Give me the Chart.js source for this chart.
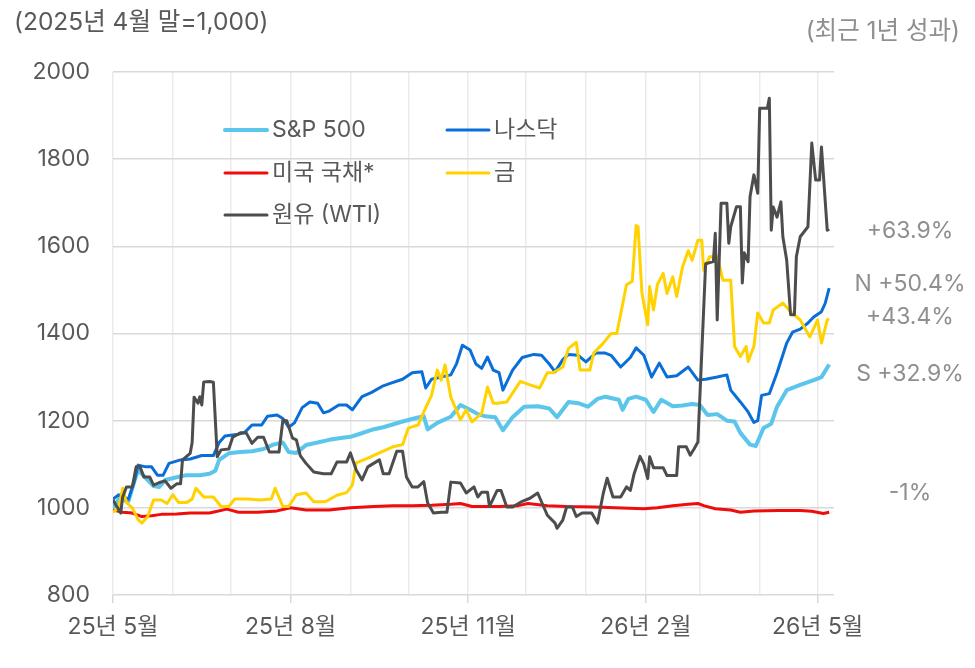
<!DOCTYPE html>
<html lang="ko">
<head>
<meta charset="utf-8">
<script src="https://cdn.jsdelivr.net/npm/chart.js@4.4.1/dist/chart.umd.min.js"></script>
<style>
    html, body { margin: 0; padding: 0; background: #ffffff; }
    #wrap { width: 975px; height: 668px; }
</style>
</head>
<body>
<div id="wrap"><canvas id="chart" width="975" height="668"></canvas></div>
<script>
// days counted from 2025-05-01, value index (2025-04-30 = 1000)
const sp500 = [
    [0,1000],[3,1020],[8,1015],[11,1060],[13,1087],[17,1068],[21,1050],[24,1048],[27,1064],[33,1070],
    [38,1075],[45,1075],[50,1078],[53,1085],[55,1110],[60,1125],[66,1128],[72,1130],[78,1135],[83,1145],
    [88,1150],[91,1128],[95,1126],[100,1144],[106,1150],[112,1156],[118,1160],[123,1163],[128,1170],[134,1179],
    [140,1185],[144,1190],[150,1198],[157,1206],[161,1210],[163,1180],[168,1195],[175,1209],[180,1236],[185,1225],
    [189,1215],[193,1210],[198,1208],[202,1178],[207,1208],[213,1232],[220,1233],[226,1228],[230,1208],[236,1243],
    [241,1240],[246,1232],[251,1250],[255,1255],[262,1248],[264,1225],[267,1250],[271,1255],[276,1248],[280,1220],
    [284,1248],[290,1233],[295,1235],[300,1238],[304,1236],[308,1213],[313,1215],[318,1200],[322,1198],[325,1172],
    [330,1145],[333,1142],[337,1183],[341,1193],[344,1232],[349,1270],[356,1282],[363,1293],[367,1300],[371,1329]
];
const nasdaq = [
    [0,1020],[3,1030],[8,1020],[11,1060],[13,1098],[17,1094],[20,1094],[23,1075],[26,1075],[29,1102],
    [35,1110],[40,1112],[46,1120],[52,1120],[55,1150],[58,1165],[64,1168],[68,1172],[72,1190],[77,1190],
    [80,1210],[85,1213],[88,1205],[91,1185],[94,1195],[98,1230],[102,1243],[106,1240],[109,1218],[112,1222],
    [117,1236],[121,1236],[124,1225],[129,1255],[134,1265],[140,1280],[144,1286],[150,1295],[155,1310],[160,1312],
    [162,1275],[165,1295],[170,1300],[175,1305],[178,1331],[181,1373],[185,1362],[188,1330],[191,1320],[194,1346],
    [197,1316],[200,1310],[202,1270],[207,1316],[212,1345],[218,1352],[222,1350],[226,1330],[229,1312],[233,1340],
    [236,1352],[241,1350],[245,1335],[250,1355],[255,1355],[258,1350],[263,1323],[268,1345],[271,1367],[275,1350],
    [279,1300],[283,1332],[287,1300],[292,1303],[298,1323],[303,1293],[307,1295],[313,1300],[318,1305],[320,1270],
    [325,1243],[329,1220],[332,1196],[334,1200],[336,1258],[340,1262],[344,1310],[349,1378],[352,1403],[356,1410],
    [360,1424],[363,1438],[367,1450],[369,1470],[371,1504]
];
const treasury = [
    [0,995],[5,990],[10,988],[15,980],[20,982],[25,985],[33,986],[40,988],[50,988],[59,997],
    [65,990],[75,990],[85,993],[92,1000],[100,995],[112,995],[123,1000],[135,1003],[145,1005],[155,1005],
    [165,1006],[175,1008],[180,1010],[186,1003],[200,1003],[210,1005],[215,1010],[225,1005],[235,1003],[250,1002],
    [260,1000],[275,998],[282,1000],[290,1005],[298,1008],[303,1010],[306,1005],[312,998],[320,995],[325,990],
    [332,993],[345,994],[356,994],[362,992],[368,987],[371,990]
];
const gold = [
    [0,990],[3,1000],[5,1045],[7,1012],[10,1000],[13,973],[15,965],[18,980],[21,1018],[25,1018],
    [28,1010],[31,1030],[34,1012],[38,1012],[41,1020],[43,1045],[47,1025],[52,1025],[56,1003],[60,1003],
    [63,1020],[70,1020],[76,1018],[82,1020],[84,1045],[88,1003],[91,1003],[95,1030],[100,1034],[104,1014],
    [110,1014],[116,1029],[121,1035],[124,1052],[126,1103],[132,1114],[138,1126],[145,1140],[150,1145],[153,1183],
    [158,1190],[161,1220],[165,1258],[168,1316],[170,1293],[172,1328],[175,1254],[180,1202],[183,1225],[186,1197],
    [191,1217],[194,1277],[197,1240],[199,1240],[204,1243],[211,1290],[216,1282],[221,1275],[225,1310],[228,1310],
    [233,1323],[236,1366],[240,1380],[242,1316],[247,1316],[249,1355],[254,1378],[258,1400],[261,1400],[266,1512],
    [269,1520],[271,1648],[272,1645],[274,1493],[277,1420],[278,1508],[280,1454],[282,1512],[285,1538],[287,1492],
    [290,1530],[292,1485],[295,1552],[298,1590],[300,1568],[303,1614],[305,1614],[306,1545],[309,1576],[313,1576],
    [316,1522],[320,1522],[322,1370],[325,1347],[328,1370],[329,1336],[332,1370],[334,1447],[337,1424],[340,1424],
    [342,1454],[347,1470],[351,1450],[356,1431],[361,1392],[365,1431],[367,1378],[370,1431],[371,1434]
];
const wti = [
    [0,1018],[2,1003],[4,988],[5,1025],[7,1048],[10,1048],[12,1094],[14,1094],[16,1071],[19,1071],
    [21,1052],[24,1058],[27,1062],[30,1045],[33,1055],[35,1055],[36,1110],[40,1125],[41,1150],[42,1254],
    [44,1240],[45,1255],[46,1236],[47,1289],[50,1290],[52,1288],[54,1117],[56,1133],[60,1135],[62,1162],
    [66,1172],[69,1172],[72,1148],[75,1162],[78,1162],[81,1128],[86,1128],[88,1201],[90,1200],[93,1160],
    [95,1156],[97,1120],[100,1102],[104,1082],[109,1078],[113,1078],[116,1105],[121,1105],[123,1126],[126,1087],
    [129,1064],[132,1094],[138,1110],[140,1078],[143,1078],[147,1130],[150,1130],[152,1071],[155,1048],[158,1048],
    [161,1060],[163,1011],[166,988],[170,990],[173,990],[175,1059],[180,1057],[183,1034],[187,1048],[189,1025],
    [191,1036],[194,1036],[195,1003],[199,1040],[201,1040],[204,1002],[207,1002],[212,1015],[216,1022],[220,1034],
    [225,983],[229,965],[230,953],[233,972],[235,1002],[238,1002],[240,980],[243,988],[248,988],[251,965],
    [254,1034],[256,1068],[259,1025],[263,1025],[266,1048],[268,1040],[270,1079],[273,1118],[275,1100],[277,1067],
    [278,1117],[280,1092],[285,1092],[287,1074],[292,1074],[293,1140],[297,1140],[299,1121],[301,1135],[303,1151],
    [307,1560],[311,1565],[312,1630],[313,1431],[315,1699],[318,1699],[319,1607],[320,1645],[323,1691],[325,1691],
    [326,1516],[327,1585],[329,1565],[330,1714],[332,1764],[334,1722],[335,1917],[339,1917],[340,1940],[341,1637],
    [342,1690],[344,1667],[346,1702],[347,1622],[349,1568],[351,1443],[353,1443],[354,1576],[356,1622],[360,1645],
    [362,1837],[364,1752],[366,1752],[367,1828],[370,1637],[371,1640]
];

const seriesNames = ["S&P 500", "나스닥", "미국 국채*", "금", "원유 (WTI)"];
const monthDays = [0, 31, 61, 92, 123, 153, 184, 214, 245, 276, 304, 335, 365];
const monthLabels = {0: "25년 5월", 92: "25년 8월", 184: "25년 11월", 276: "26년 2월", 365: "26년 5월"};
const yTicks = [800, 1000, 1200, 1400, 1600, 1800, 2000];
const endLabels = ["+63.9%", "N +50.4%", "+43.4%", "S +32.9%", "-1%"];
const endLabelValues = [1634, 1514, 1438, 1307, 1035];
const titleLeft = "(2025년 4월 말=1,000)";
const titleRight = "(최근 1년 성과)";

const FONT = "Inter, 'Noto Sans CJK KR', sans-serif";
const TEXT = "#595959";
const SOFT = "#8f8f8f";

function toPoints(pairs) {
    return pairs.map(([d, v]) => ({ x: d, y: v }));
}

const colors = ["#5BC5EB", "#0A6ED8", "#EE0C0C", "#FFD200", "#4D4D4D"];
const widths = [4, 3, 3, 3, 3];
const orders = [3, 2, 4, 1, 0];
const rows = [sp500, nasdaq, treasury, gold, wti];

const extras = {
    id: "extras",
    afterDraw(chart) {
        const ctx = chart.ctx;
        const y = chart.scales.y;
        ctx.save();
        ctx.textBaseline = "middle";

        ctx.font = "24.5px " + FONT;
        ctx.fillStyle = TEXT;
        ctx.textAlign = "left";
        ctx.fillText(titleLeft, 14, 23);
        ctx.fillStyle = SOFT;
        ctx.textAlign = "right";
        ctx.fillText(titleRight, 960, 32);

        // legend, two columns inside the plot
        ctx.font = "23px " + FONT;
        const cols = [225, 447];
        const rowY = [130, 173, 215];
        chart.data.datasets.forEach((ds, i) => {
            const cx = cols[i % 2];
            const cy = rowY[Math.floor(i / 2)];
            ctx.strokeStyle = ds.borderColor;
            ctx.lineWidth = ds.borderWidth;
            ctx.lineCap = "round";
            ctx.beginPath();
            ctx.moveTo(cx, cy);
            ctx.lineTo(cx + 42, cy);
            ctx.stroke();
            ctx.fillStyle = TEXT;
            ctx.textAlign = "left";
            ctx.fillText(ds.label, cx + 47, cy);
        });

        // end-of-period returns
        ctx.fillStyle = SOFT;
        ctx.textAlign = "center";
        endLabels.forEach((t, i) => {
            ctx.fillText(t, 910, y.getPixelForValue(endLabelValues[i]));
        });
        ctx.restore();
    }
};

new Chart(document.getElementById("chart"), {
    type: "line",
    data: {
        datasets: rows.map((r, i) => ({
            label: seriesNames[i],
            data: toPoints(r),
            borderColor: colors[i],
            backgroundColor: colors[i],
            borderWidth: widths[i],
            order: orders[i],
            pointRadius: 0,
            tension: 0,
            borderJoinStyle: "round"
        }))
    },
    options: {
        responsive: false,
        animation: false,
        layout: { padding: { left: 0, right: 141, top: 72, bottom: 0 } },
        plugins: {
            legend: { display: false },
            tooltip: { enabled: false }
        },
        scales: {
            x: {
                type: "linear",
                min: 0,
                max: 373.5,
                afterBuildTicks(scale) {
                    scale.ticks = monthDays.map((v) => ({ value: v }));
                },
                afterFit(scale) { scale.height = 73; },
                border: { display: false },
                grid: {
                    color: "#ebebeb",
                    lineWidth: 1.5,
                    tickLength: 8,
                    tickColor: (c) => (c.tick && monthLabels[c.tick.value] ? "#d9d9d9" : "rgba(0,0,0,0)")
                },
                ticks: {
                    autoSkip: false,
                    maxRotation: 0,
                    padding: 10,
                    color: TEXT,
                    font: { family: FONT, size: 23 },
                    callback: (v) => monthLabels[v] || ""
                }
            },
            y: {
                min: 800,
                max: 2000,
                afterBuildTicks(scale) {
                    scale.ticks = yTicks.map((v) => ({ value: v }));
                },
                afterFit(scale) { scale.width = 113; },
                border: { display: false },
                grid: { color: "#d9d9d9", lineWidth: 1.5, drawTicks: false },
                ticks: {
                    padding: 23,
                    color: TEXT,
                    font: { family: FONT, size: 23 },
                    callback: (v) => String(v)
                }
            }
        }
    },
    plugins: [extras]
});
</script>
</body>
</html>
